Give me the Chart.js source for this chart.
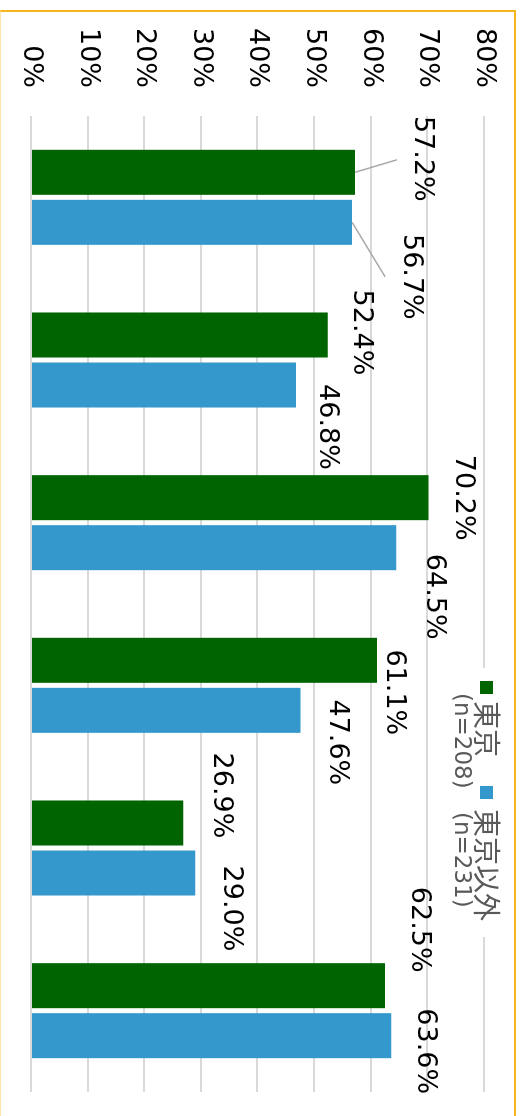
<!DOCTYPE html>
<html><head><meta charset="utf-8">
<script src="https://cdn.jsdelivr.net/npm/chart.js@4.4.0/dist/chart.umd.min.js"></script>
<style>
html,body{margin:0;padding:0;background:#fff;width:524px;height:1116px;overflow:hidden;position:relative}
#rot{position:absolute;left:0;top:0;width:1116px;height:524px;transform-origin:0 0;transform:translate(524px,0) rotate(90deg);}
#frame{position:absolute;left:0;top:10px;width:516px;height:1200px;box-sizing:border-box;border-top:2px solid #f3b71d;border-right:2px solid #f3b71d;border-left:1px solid #fbe6ad;pointer-events:none}
</style></head><body>
<div id="rot"><canvas id="c" width="1116" height="524"></canvas></div>
<div id="frame"></div>
<script>
// ---- data ----
const categories = ['項目1','項目2','項目3','項目4','項目5','項目6'];
const tokyo  = [57.2, 52.4, 70.2, 61.1, 26.9, 62.5];
const others = [56.7, 46.8, 64.5, 47.6, 29.0, 63.6];
const seriesNames = ['東京', '東京以外'];
const seriesNotes = ['(n=208)', '(n=231)'];
const yTickValues = [0, 10, 20, 30, 40, 50, 60, 70, 80];

// ---- layout (label placement relative to bar top, leader lines) ----
const labelOffsets = [
  [[-13.5,-67],[-2.5,-33],[0,-35],[32,-17],[-27.5,-38],[-56,-34]],
  [[54.5,-59],[42,-31],[49,-38],[32,-36],[35.5,-35.5],[15.5,-34]]
];
const leaders = [
  {ds:0, i:0, end:[1,25]},
  {ds:1, i:0, end:[0,26]}
];
const colors = ['#006400', '#3598cc'];

const labelPlugin = {
  id: 'valueLabels',
  afterDatasetsDraw(chart) {
    const ctx = chart.ctx;
    ctx.save();
    ctx.strokeStyle = '#a6a6a6';
    ctx.lineWidth = 1.5;
    leaders.forEach(l => {
      const bar = chart.getDatasetMeta(l.ds).data[l.i];
      const off = labelOffsets[l.ds][l.i];
      ctx.beginPath();
      ctx.moveTo(bar.x, bar.y);
      ctx.lineTo(bar.x + off[0] + l.end[0], bar.y + off[1] + l.end[1]);
      ctx.stroke();
    });
    ctx.fillStyle = '#000';
    ctx.font = '27px "DejaVu Sans"';
    ctx.textAlign = 'center';
    ctx.textBaseline = 'middle';
    chart.data.datasets.forEach((ds, di) => {
      chart.getDatasetMeta(di).data.forEach((bar, i) => {
        const off = labelOffsets[di][i];
        ctx.fillText(ds.data[i].toFixed(1) + '%', bar.x + off[0], bar.y + off[1]);
      });
    });
    ctx.restore();
  },
  afterDraw(chart) {
    const ctx = chart.ctx;
    ctx.save();
    ctx.fillStyle = '#fff';
    ctx.fillRect(668, 18, 269, 58);
    const entries = [
      {mx:681, tx:701, nx:693},
      {mx:786, tx:809, nx:812}
    ];
    entries.forEach((e, k) => {
      ctx.fillStyle = colors[k];
      ctx.fillRect(e.mx, 31, 13, 13);
      ctx.fillStyle = '#595959';
      ctx.textBaseline = 'middle';
      ctx.textAlign = 'left';
      ctx.font = '28px "Noto Sans CJK JP"';
      ctx.fillText(seriesNames[k], e.tx, 37);
      ctx.font = '23px "DejaVu Sans"';
      ctx.fillText(seriesNotes[k], e.nx, 63);
    });
    ctx.restore();
  }
};

new Chart(document.getElementById('c'), {
  type: 'bar',
  data: {
    labels: categories,
    datasets: [
      {label: seriesNames[0], data: tokyo, backgroundColor: colors[0], borderWidth: 0, categoryPercentage: 0.615, barPercentage: 0.9},
      {label: seriesNames[1], data: others, backgroundColor: colors[1], borderWidth: 0, categoryPercentage: 0.615, barPercentage: 0.9}
    ]
  },
  options: {
    responsive: false,
    animation: false,
    devicePixelRatio: 1,
    layout: {padding: {left: 0, right: 24, top: 40, bottom: 31}},
    plugins: {legend: {display: false}, tooltip: {enabled: false}},
    scales: {
      x: {
        display: false,
        grid: {display: false}
      },
      y: {
        min: 0, max: 80,
        afterBuildTicks(s) { s.ticks = yTickValues.map(v => ({value: v})); },
        ticks: {
          callback: v => v + '%',
          color: '#000',
          font: {family: 'DejaVu Sans', size: 27},
          padding: 28
        },
        grid: {color: '#d9d9d9', lineWidth: 2, drawTicks: false},
        border: {display: false},
        afterFit(s) { s.width = 116; s.paddingTop = 0; s.paddingBottom = 0; }
      }
    }
  },
  plugins: [labelPlugin]
});
</script>
</body></html>
